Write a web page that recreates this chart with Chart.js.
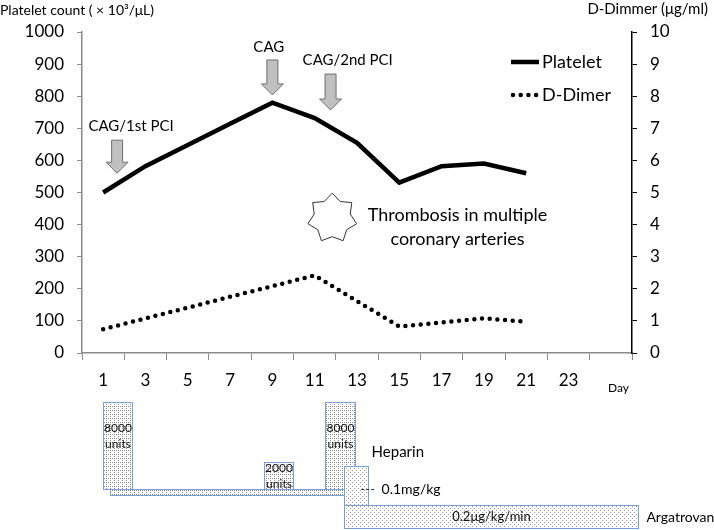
<!DOCTYPE html>
<html>
<head>
<meta charset="utf-8">
<script src="https://cdn.jsdelivr.net/npm/chart.js@4.4.1/dist/chart.umd.min.js"></script>
<style>
html, body { margin: 0; padding: 0; background: #fff; }
#wrap { position: relative; width: 714px; height: 530px; }
#cchart { position: absolute; left: 0; top: 0; }
#cdose { position: absolute; left: 0; top: 398px; }
</style>
</head>
<body>
<div id="wrap">
<canvas id="cchart" width="714" height="398"></canvas>
<canvas id="cdose" width="714" height="132"></canvas>
</div>
<script>
// x axis: one category per two days, last slot left empty
const dayLabels = ['1', '3', '5', '7', '9', '11', '13', '15', '17', '19', '21', '23', ''];
const platelet = [500, 582, 648, 714, 780, 732, 655, 531, 582, 590, 560];
const dDimer = [0.74, 1.08, 1.41, 1.75, 2.08, 2.42, 1.62, 0.82, 0.95, 1.08, 0.97];

// procedure arrows (day, platelet scale values)
const eventNames = ['CAG/1st PCI', 'CAG', 'CAG/2nd PCI'];
const eventDay = [1.66, 9, 11.75];
const eventArrowTop = [663, 913, 869];
const eventArrowTip = [560, 804, 757];
const eventLabelDay = [2.32, 8.83, 12.56];
const eventLabelY = [707, 953, 913];

// thrombosis note
const noteLines = ['Thrombosis in multiple', 'coronary arteries'];
const noteDay = 17.75;
const noteY = [430, 355];
const starDay = 11.83;
const starY = 420;

// anticoagulant schedule (day range, schematic level range)
const doseStart = [1.33, 1.0, 8.6, 11.5, 12.4, 12.4];
const doseEnd = [12.4, 2.35, 9.96, 12.9, 13.5, 26.3];
const doseLow = [2.65, 3.1, 3.1, 3.1, 1.9, 0.15];
const doseHigh = [3.1, 9.7, 5.15, 9.7, 4.85, 1.9];
const doseFill = ['dense', 'dense', 'dense', 'dense', 'sparse', 'sparse'];
const doseText = [null, ['8000', 'units'], ['2000', 'units'], ['8000', 'units'], null, ['0.2μg/kg/min']];
const doseTextY = [0, 7.1, 4.05, 7.1, 0, 0.98];
const drugNames = ['Heparin', '0.1mg/kg', 'Argatrovan'];
const drugNameDay = [13.69, 14.16, 26.68];
const drugNameY = [5.93, 3.08, 0.93];

const FONT = 'Lato, "Open Sans", sans-serif';
const AXIS = '#898989';
Chart.defaults.font.family = FONT;
Chart.defaults.color = '#000';

function dayToIndex(d) {
    return (d - 1) / 2;
}

function drawArrow(ctx, x, yTop, yTip) {
    let shaft = 5.5, head = 11, headH = 11;
    ctx.beginPath();
    ctx.moveTo(x - shaft, yTop);
    ctx.lineTo(x + shaft, yTop);
    ctx.lineTo(x + shaft, yTip - headH);
    ctx.lineTo(x + head, yTip - headH);
    ctx.lineTo(x, yTip);
    ctx.lineTo(x - head, yTip - headH);
    ctx.lineTo(x - shaft, yTip - headH);
    ctx.closePath();
    ctx.fillStyle = '#c0c0c0';
    ctx.fill();
    ctx.strokeStyle = '#6e6e6e';
    ctx.lineWidth = 1;
    ctx.stroke();
}

function drawStar(ctx, cx, cy, r) {
    let n = 7, inner = r * 0.74;
    ctx.beginPath();
    for (let i = 0; i < n * 2; i++) {
        let a = Math.PI * i / n;
        let rr = i % 2 === 0 ? r : inner;
        let px = cx + rr * Math.sin(a);
        let py = cy - rr * Math.cos(a);
        if (i === 0) ctx.moveTo(px, py); else ctx.lineTo(px, py);
    }
    ctx.closePath();
    ctx.fillStyle = '#fff';
    ctx.fill();
    ctx.strokeStyle = '#333';
    ctx.lineWidth = 1;
    ctx.stroke();
}

/*
    Annotations, legend and axis titles on the main chart
*/
const notesPlugin = {
    id: 'notes',
    afterDraw(chart) {
        const ctx = chart.ctx;
        const x = chart.scales.x, y = chart.scales.y;
        const area = chart.chartArea;
        ctx.save();
        ctx.textBaseline = 'middle';

        // axis titles
        ctx.fillStyle = '#000';
        ctx.font = '14px ' + FONT;
        ctx.textAlign = 'left';
        ctx.fillText('Platelet count ( × 10³/μL)', 0, 10);
        ctx.font = '15px ' + FONT;
        ctx.textAlign = 'right';
        ctx.fillText('D-Dimmer (μg/ml)', 708, 9);

        // Day label next to the x axis
        ctx.font = '12px ' + FONT;
        ctx.textAlign = 'left';
        ctx.fillText('Day', area.right - 24, area.bottom + 35);

        // arrows and procedure labels
        for (let i = 0; i < eventNames.length; i++) {
            let px = x.getPixelForValue(dayToIndex(eventDay[i]));
            drawArrow(ctx, px, y.getPixelForValue(eventArrowTop[i]), y.getPixelForValue(eventArrowTip[i]));
            ctx.fillStyle = '#000';
            ctx.font = '15px ' + FONT;
            ctx.textAlign = 'center';
            ctx.fillText(eventNames[i], x.getPixelForValue(dayToIndex(eventLabelDay[i])), y.getPixelForValue(eventLabelY[i]));
        }

        // star and thrombosis note
        drawStar(ctx, x.getPixelForValue(dayToIndex(starDay)), y.getPixelForValue(starY), 25);
        ctx.fillStyle = '#000';
        ctx.font = '18px ' + FONT;
        ctx.textAlign = 'center';
        for (let i = 0; i < noteLines.length; i++) {
            ctx.fillText(noteLines[i], x.getPixelForValue(dayToIndex(noteDay)), y.getPixelForValue(noteY[i]));
        }

        // legend
        const ds = chart.data.datasets;
        let lx = area.right - 121, ly = area.top + 30;
        ctx.font = '18px ' + FONT;
        ctx.textAlign = 'left';
        for (let i = 0; i < ds.length; i++) {
            let yy = ly + i * 33;
            ctx.beginPath();
            ctx.strokeStyle = ds[i].borderColor;
            ctx.lineWidth = ds[i].borderWidth;
            ctx.lineCap = ds[i].borderCapStyle || 'butt';
            ctx.setLineDash(ds[i].borderDash || []);
            ctx.moveTo(lx + (ds[i].borderDash ? 2 : 0), yy);
            ctx.lineTo(lx + 28, yy);
            ctx.stroke();
            ctx.setLineDash([]);
            ctx.fillStyle = '#000';
            ctx.fillText(ds[i].label, lx + 31, yy);
        }
        ctx.restore();
    }
};

let UICanvasChart = document.getElementById('cchart');
let _chart = new Chart(UICanvasChart.getContext('2d'), {
    type: 'line',
    data: {
        labels: dayLabels,
        datasets: [{
            label: 'Platelet',
            data: platelet,
            yAxisID: 'y',
            borderColor: '#000',
            borderWidth: 4.5,
            borderCapStyle: 'butt',
            pointRadius: 0,
            tension: 0
        },
        {
            label: 'D-Dimer',
            data: dDimer,
            yAxisID: 'y1',
            borderColor: '#000',
            borderWidth: 4.5,
            borderDash: [0, 7.7],
            borderCapStyle: 'round',
            pointRadius: 0,
            tension: 0
        }]
    },
    options: {
        responsive: false,
        animation: false,
        devicePixelRatio: 1,
        layout: { padding: { top: 32, left: 0, right: 0, bottom: 0 } },
        plugins: { legend: { display: false }, tooltip: { enabled: false } },
        scales: {
            x: {
                type: 'category',
                offset: true,
                grid: { offset: true, drawOnChartArea: false, color: AXIS, tickLength: 7 },
                border: { color: AXIS, width: 1.5 },
                ticks: { font: { size: 17 }, padding: 10, autoSkip: false, maxRotation: 0 },
                afterFit: function (scale) { scale.height = 45; }
            },
            y: {
                position: 'left',
                min: 0,
                max: 1000,
                grid: { drawOnChartArea: false, color: AXIS, tickLength: 5 },
                border: { color: AXIS, width: 1.5 },
                ticks: { stepSize: 100, font: { size: 17 }, padding: 13, callback: v => String(v) },
                afterFit: function (scale) { scale.width = 82; }
            },
            y1: {
                position: 'right',
                min: 0,
                max: 10,
                grid: { drawOnChartArea: false, color: '#000', tickLength: 5 },
                border: { color: '#000', width: 1.5 },
                ticks: { stepSize: 1, font: { size: 17 }, padding: 13, callback: v => String(v) },
                afterFit: function (scale) { scale.width = 82; }
            }
        }
    },
    plugins: [notesPlugin]
});

/*
    Dotted fills for the dosing boxes
*/
function makePattern(ctx, size, dots, color) {
    let c = document.createElement('canvas');
    c.width = size;
    c.height = size;
    let g = c.getContext('2d');
    g.fillStyle = '#fff';
    g.fillRect(0, 0, size, size);
    g.fillStyle = color;
    dots.forEach(d => g.fillRect(d[0], d[1], 1, 1));
    return ctx.createPattern(c, 'repeat');
}

const dosePlugin = {
    id: 'dose',
    afterDraw(chart) {
        const ctx = chart.ctx;
        const x = chart.scales.x, y = chart.scales.y;
        const fills = {
            dense: makePattern(ctx, 4, [[0, 0], [2, 2], [2, 0]], '#8a8a8a'),
            sparse: makePattern(ctx, 4, [[0, 0], [2, 2]], '#9a9a9a')
        };
        ctx.save();
        for (let i = 0; i < doseStart.length; i++) {
            let x0 = Math.round(x.getPixelForValue(doseStart[i])) + 0.5;
            let x1 = Math.round(x.getPixelForValue(doseEnd[i])) + 0.5;
            let y0 = Math.round(y.getPixelForValue(doseHigh[i])) + 0.5;
            let y1 = Math.round(y.getPixelForValue(doseLow[i])) + 0.5;
            ctx.fillStyle = fills[doseFill[i]];
            ctx.fillRect(x0, y0, x1 - x0, y1 - y0);
            ctx.strokeStyle = '#7a9fd6';
            ctx.lineWidth = 1;
            ctx.strokeRect(x0, y0, x1 - x0, y1 - y0);
            if (doseText[i]) {
                let lines = doseText[i];
                let cx = (x0 + x1) / 2;
                let cy = y.getPixelForValue(doseTextY[i]);
                ctx.font = (lines.length > 1 ? '12px ' : '13px ') + FONT;
                ctx.fillStyle = '#111';
                ctx.textAlign = 'center';
                ctx.textBaseline = 'middle';
                lines.forEach((t, k) => ctx.fillText(t, cx, cy + (k - (lines.length - 1) / 2) * 16));
            }
        }
        // drug names
        ctx.fillStyle = '#000';
        ctx.textAlign = 'left';
        ctx.textBaseline = 'middle';
        for (let i = 0; i < drugNames.length; i++) {
            ctx.font = (i === 0 ? '15px ' : '14px ') + FONT;
            ctx.fillText(drugNames[i], x.getPixelForValue(drugNameDay[i]), y.getPixelForValue(drugNameY[i]));
        }
        // leader for the argatrovan bolus
        ctx.beginPath();
        ctx.strokeStyle = '#333';
        ctx.setLineDash([3, 2]);
        let ly = Math.round(y.getPixelForValue(drugNameY[1])) + 0.5;
        ctx.moveTo(x.getPixelForValue(13.2), ly);
        ctx.lineTo(x.getPixelForValue(13.9), ly);
        ctx.stroke();
        ctx.restore();
    }
};

let UICanvasDose = document.getElementById('cdose');
let _dose = new Chart(UICanvasDose.getContext('2d'), {
    type: 'scatter',
    data: { datasets: [] },
    options: {
        responsive: false,
        animation: false,
        devicePixelRatio: 1,
        layout: { padding: { left: 82, right: 82, top: 0, bottom: 0 } },
        plugins: { legend: { display: false }, tooltip: { enabled: false } },
        scales: {
            x: { type: 'linear', min: 0, max: 26, display: false },
            y: { type: 'linear', min: 0, max: 10, display: false }
        }
    },
    plugins: [dosePlugin]
});
</script>
</body>
</html>
